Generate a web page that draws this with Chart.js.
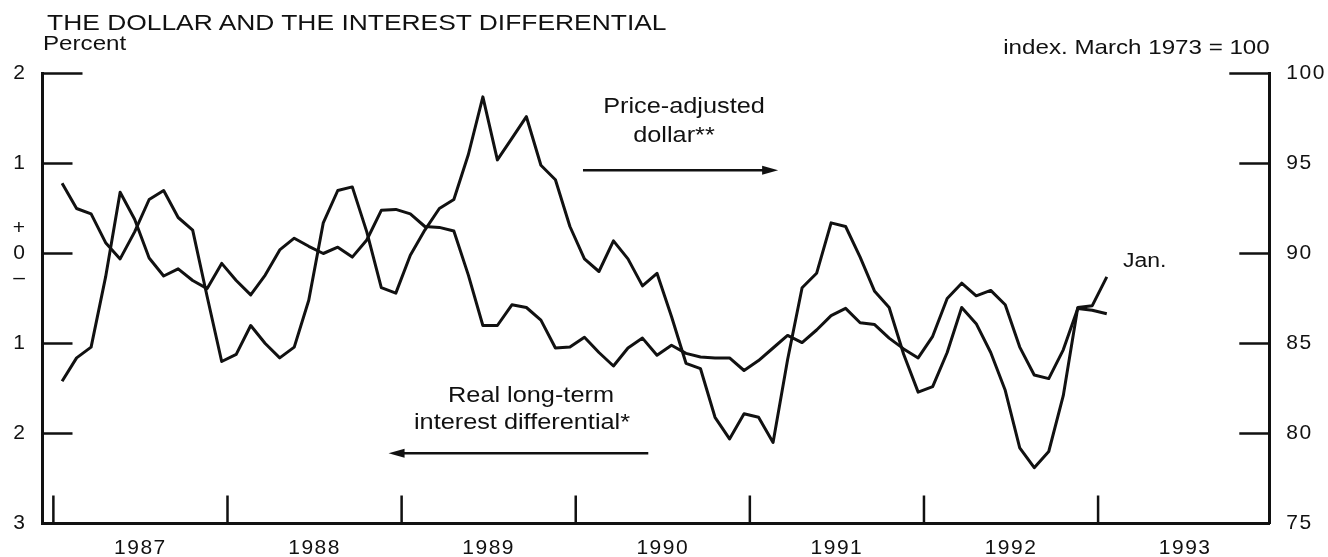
<!DOCTYPE html>
<html>
<head>
<meta charset="utf-8">
<title>The dollar and the interest differential</title>
<script src="https://cdn.jsdelivr.net/npm/chart.js"></script>
<style>
  body { margin: 0; background: #fff; }
  #wrap { position: relative; width: 1328px; height: 557px; overflow: hidden; background: #fff; }
  #chart { position: absolute; left: 0; top: 0; }
  .t { position: absolute; font-family: "Liberation Sans", Arial, sans-serif; color: #111; white-space: nowrap; line-height: 1; font-size: 21px; transform-origin: 0 0; transform: scaleX(1.15); }
  .c { transform-origin: 50% 0; transform: translateX(-50%) scaleX(1.15); }
  .r { transform-origin: 100% 0; }
</style>
</head>
<body>
<div id="wrap">
  <canvas id="chart" width="1328" height="557"></canvas>
  <div class="t" style="left:47px; top:12px; font-size:22px; transform:scaleX(1.2);">THE DOLLAR AND THE INTEREST DIFFERENTIAL</div>
  <div class="t" style="left:43px; top:32px;">Percent</div>
  <div class="t r" style="right:58px; top:36px;">index. March 1973 = 100</div>
  <div class="t c" style="left:684px; top:95px; font-size:22px;">Price-adjusted</div>
  <div class="t c" style="left:674px; top:124px; font-size:22px;">dollar**</div>
  <div class="t c" style="left:531px; top:384px; font-size:22px;">Real long-term</div>
  <div class="t c" style="left:522px; top:411px; font-size:22px;">interest differential*</div>
  <div class="t" style="left:1123px; top:250px; font-size:20px;">Jan.</div>
</div>
<script>
// monthly, Jan 1987 .. Jan 1993
var firstYear = 1987;

// price-adjusted dollar, index March 1973 = 100 (right scale)
var dollar = [93.9, 92.5, 92.2, 90.6, 89.7, 91.2, 93.0, 93.5, 92.0, 91.3, 87.6, 84.0,
  84.4, 86.0, 85.0, 84.2, 84.8, 87.4, 91.7, 93.5, 93.7, 91.2, 88.1, 87.8,
  89.9, 91.3, 92.5, 93.0, 95.5, 98.7, 95.2, 96.4, 97.6, 94.9, 94.1, 91.5,
  89.7, 89.0, 90.7, 89.7, 88.2, 88.9, 86.5, 83.9, 83.6, 80.9, 79.7, 81.1,
  80.9, 79.5, 84.1, 88.1, 88.9, 91.7, 91.5, 89.8, 87.9, 87.0, 84.4, 82.3,
  82.6, 84.5, 87.0, 86.1, 84.5, 82.4, 79.2, 78.1, 79.0, 82.1, 87.0, 87.1,
  88.7];

// real long-term interest differential, percent (left scale)
var differential = [-1.42, -1.16, -1.04, -0.26, 0.68, 0.38, -0.05, -0.25, -0.17, -0.30, -0.39, -0.11,
  -0.30, -0.46, -0.24, 0.04, 0.17, 0.08, 0.00, 0.07, -0.04, 0.15, 0.48, 0.49,
  0.44, 0.30, 0.29, 0.25, -0.24, -0.80, -0.80, -0.57, -0.60, -0.74, -1.05, -1.04,
  -0.93, -1.10, -1.25, -1.05, -0.94, -1.13, -1.02, -1.11, -1.15, -1.16, -1.16, -1.30,
  -1.19, -1.05, -0.91, -0.99, -0.85, -0.69, -0.61, -0.77, -0.79, -0.94, -1.06, -1.16,
  -0.92, -0.50, -0.33, -0.47, -0.41, -0.57, -1.04, -1.35, -1.39, -1.07, -0.61, -0.63,
  -0.67];

var yearLabels = ["1987", "1988", "1989", "1990", "1991", "1992", "1993"];
var leftTicks = [-3, -2, -1, 0, 1, 2];
var rightTicks = [75, 80, 85, 90, 95, 100];

// x is months since Jan 1987; year boundaries sit just before each January point
var yearStart = -0.6;
var xMin = -1.35, xMax = 83.2;

var dollarPts = dollar.map(function (v, i) { return { x: i, y: v }; });
var diffPts = differential.map(function (v, i) { return { x: i, y: v }; });

// arrows under the two labels, in (month, percent) units
var arrows = [
  { x0: 35.9, x1: 49.35, y: 0.925 },
  { x0: 40.4, x1: 22.5, y: -2.22 }
];

var font = { family: "'Liberation Sans', Arial, sans-serif", size: 21 };

// short tick marks drawn inside the frame, plus the label arrows
var frameTicks = {
  id: 'frameTicks',
  beforeDraw: function (chart) {
    chart.ctx.letterSpacing = '1.5px';
  },
  afterDraw: function (chart) {
    var ctx = chart.ctx;
    var a = chart.chartArea;
    var sx = chart.scales.x, sy = chart.scales.y, sy2 = chart.scales.y2;
    ctx.save();
    ctx.strokeStyle = '#111';
    ctx.fillStyle = '#111';
    ctx.lineWidth = 2.5;
    ctx.beginPath();
    leftTicks.forEach(function (v, i) {
      if (i === 0) return;
      var py = sy.getPixelForValue(v);
      ctx.moveTo(a.left, py);
      ctx.lineTo(a.left + (i === leftTicks.length - 1 ? 40 : 30), py);
    });
    rightTicks.forEach(function (v, i) {
      if (i === 0) return;
      var py = sy2.getPixelForValue(v);
      ctx.moveTo(a.right, py);
      ctx.lineTo(a.right - (i === rightTicks.length - 1 ? 40 : 30), py);
    });
    for (var k = 0; k < yearLabels.length; k++) {
      var px = sx.getPixelForValue(yearStart + 12 * k);
      ctx.moveTo(px, a.bottom);
      ctx.lineTo(px, a.bottom - 28);
    }
    ctx.stroke();

    arrows.forEach(function (ar) {
      var p0 = sx.getPixelForValue(ar.x0), p1 = sx.getPixelForValue(ar.x1);
      var py = sy.getPixelForValue(ar.y);
      var dir = p1 > p0 ? 1 : -1;
      ctx.beginPath();
      ctx.moveTo(p0, py);
      ctx.lineTo(p1 - dir * 12, py);
      ctx.stroke();
      ctx.beginPath();
      ctx.moveTo(p1, py);
      ctx.lineTo(p1 - dir * 16, py - 4.5);
      ctx.lineTo(p1 - dir * 16, py + 4.5);
      ctx.closePath();
      ctx.fill();
    });
    ctx.restore();
  }
};

var ctx = document.getElementById('chart').getContext('2d');
var chart = new Chart(ctx, {
  type: 'line',
  data: {
    datasets: [
      {
        label: 'Price-adjusted dollar',
        data: dollarPts,
        yAxisID: 'y2',
        borderColor: '#111',
        borderWidth: 3,
        pointRadius: 0,
        tension: 0,
        borderJoinStyle: 'round'
      },
      {
        label: 'Real long-term interest differential',
        data: diffPts,
        yAxisID: 'y',
        borderColor: '#111',
        borderWidth: 3,
        pointRadius: 0,
        tension: 0,
        borderJoinStyle: 'round'
      }
    ]
  },
  options: {
    responsive: false,
    animation: false,
    devicePixelRatio: 1,
    layout: { padding: { top: 73.5, left: 0, right: 0, bottom: 0 } },
    plugins: { legend: { display: false }, tooltip: { enabled: false } },
    scales: {
      x: {
        type: 'linear',
        min: xMin,
        max: xMax,
        grid: { display: false, drawTicks: false },
        border: { display: true, color: '#111', width: 3 },
        ticks: {
          color: '#111',
          font: font,
          padding: 12,
          maxRotation: 0,
          autoSkip: false,
          callback: function (v) {
            var k = Math.round((v - yearStart - 6) / 12);
            return yearLabels[k];
          }
        },
        afterBuildTicks: function (scale) {
          scale.ticks = yearLabels.map(function (y, k) {
            return { value: yearStart + 6 + 12 * k };
          });
        },
        afterFit: function (scale) { scale.height = 33.5; }
      },
      y: {
        position: 'left',
        min: -3,
        max: 2,
        grid: { display: false, drawTicks: false },
        border: { display: true, color: '#111', width: 3 },
        ticks: {
          color: '#111',
          font: font,
          padding: 16,
          stepSize: 1,
          callback: function (v) {
            if (v === 0) return ['+', '0', '\u2013'];
            return String(Math.abs(v));
          }
        },
        afterFit: function (scale) { scale.width = 42.5; }
      },
      y2: {
        position: 'right',
        min: 75,
        max: 100,
        grid: { display: false, drawTicks: false },
        border: { display: true, color: '#111', width: 3 },
        ticks: {
          color: '#111',
          font: font,
          padding: 17,
          stepSize: 5
        },
        afterFit: function (scale) { scale.width = 58.7; }
      }
    }
  },
  plugins: [frameTicks]
});
</script>
</body>
</html>
